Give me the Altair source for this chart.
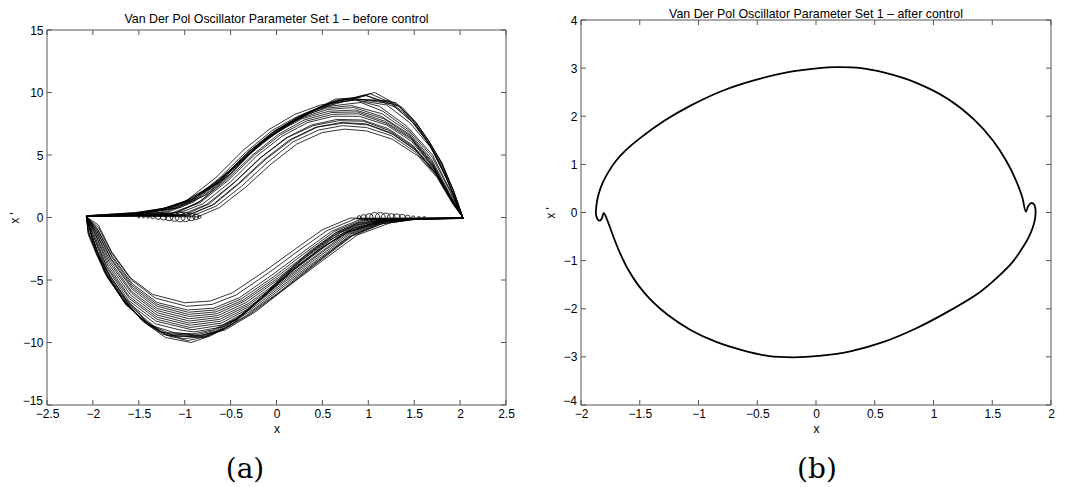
import altair as alt
import pandas as pd

# ---------------- Panel (a): before control (x, x') traces ----------------
upper_01 = [(-2.07,0.08),(-1.5,0.1),(-0.86,0.05),(-0.62,0.8),(-0.34,2.4),(-0.06,4.27),(0.22,5.87),(0.5,6.8),(0.74,7.07),(0.98,6.93),(1.26,6.27),(1.54,4.93),(1.75,3.2),(1.92,1.07),(2.03,0.0)]
upper_02 = [(-2.07,0.1),(-1.5,0.12),(-0.92,0.12),(-0.66,0.9),(-0.38,2.5),(-0.1,4.4),(0.18,6.05),(0.46,7.0),(0.72,7.35),(0.98,7.2),(1.25,6.55),(1.52,5.2),(1.74,3.4),(1.91,1.3),(2.03,0.0)]
upper_03 = [(-2.07,0.1),(-1.5,0.14),(-0.98,0.15),(-0.7,1.0),(-0.42,2.7),(-0.14,4.6),(0.14,6.2),(0.42,7.2),(0.7,7.6),(0.97,7.5),(1.24,6.8),(1.5,5.5),(1.73,3.6),(1.9,1.4),(2.03,0.0)]
upper_04 = [(-2.07,0.1),(-1.5,0.16),(-1.04,0.2),(-0.76,1.05),(-0.47,2.75),(-0.18,4.75),(0.1,6.35),(0.38,7.4),(0.66,7.85),(0.94,7.8),(1.22,7.1),(1.48,5.8),(1.72,3.8),(1.9,1.5),(2.03,0.0)]
upper_05 = [(-2.07,0.1),(-1.5,0.18),(-1.1,0.25),(-0.8,1.1),(-0.5,2.85),(-0.22,4.9),(0.06,6.5),(0.34,7.6),(0.62,8.1),(0.9,8.1),(1.2,7.4),(1.47,6.1),(1.71,4.0),(1.89,1.6),(2.03,0.0)]
upper_06 = [(-2.07,0.11),(-1.5,0.2),(-1.16,0.3),(-0.86,1.15),(-0.56,2.9),(-0.26,5.0),(0.02,6.65),(0.3,7.8),(0.6,8.4),(0.88,8.45),(1.18,7.7),(1.46,6.4),(1.7,4.2),(1.89,1.7),(2.03,0.0)]
upper_07 = [(-2.07,0.11),(-1.5,0.22),(-1.2,0.38),(-0.9,1.25),(-0.6,3.0),(-0.3,5.1),(-0.02,6.8),(0.26,7.95),(0.56,8.65),(0.84,8.8),(1.14,8.1),(1.44,6.7),(1.69,4.5),(1.88,1.9),(2.03,0.0)]
upper_08 = [(-2.07,0.12),(-1.5,0.24),(-1.25,0.45),(-0.94,1.3),(-0.63,3.1),(-0.33,5.25),(-0.05,6.95),(0.23,8.1),(0.52,8.85),(0.8,9.1),(0.92,9.2),(1.16,8.5),(1.44,7.0),(1.7,4.8),(1.89,2.1),(2.03,0.0)]
upper_09 = [(-2.07,0.12),(-1.5,0.27),(-1.3,0.5),(-0.98,1.35),(-0.66,3.2),(-0.36,5.4),(-0.08,7.05),(0.2,8.25),(0.48,9.0),(0.74,9.3),(0.86,9.4),(1.12,8.9),(1.42,7.3),(1.7,5.0),(1.89,2.2),(2.03,0.0)]
upper_10 = [(-2.07,0.13),(-1.5,0.3),(-1.1,0.75),(-0.8,1.7),(-0.5,3.5),(-0.22,5.7),(0.06,7.2),(0.34,8.4),(0.62,9.2),(0.78,9.5),(1.2,9.0),(1.45,7.6),(1.68,5.6),(1.86,3.0),(1.99,0.6),(2.03,0.0)]
upper_11 = [(-2.07,0.13),(-1.5,0.33),(-1.15,0.8),(-0.86,1.6),(-0.56,3.2),(-0.3,5.3),(0.0,7.0),(0.3,8.3),(0.58,9.15),(0.7,9.35),(0.98,9.75),(1.3,8.8),(1.5,7.5),(1.66,5.9),(1.8,4.2),(1.92,2.0),(2.03,0.0)]
upper_12 = [(-2.07,0.14),(-1.5,0.36),(-1.2,0.75),(-0.92,1.45),(-0.62,2.9),(-0.36,4.9),(-0.08,6.6),(0.2,7.9),(0.46,8.8),(0.68,9.45),(0.9,9.6),(1.02,9.9),(1.34,8.9),(1.52,7.6),(1.67,6.0),(1.8,4.3),(1.93,2.1),(2.03,0.0)]
upper_13 = [(-2.07,0.14),(-1.52,0.4),(-1.18,0.8),(-0.93,1.47),(-0.65,2.67),(-0.41,4.27),(-0.13,6.13),(0.15,7.47),(0.39,8.53),(0.64,9.47),(0.82,9.55),(1.07,10.0),(1.37,8.8),(1.52,7.6),(1.66,6.13),(1.8,4.4),(1.93,2.13),(2.03,0.0)]
upper_14 = [(-2.07,0.12),(-1.6,0.25),(-1.3,0.55),(-1.02,1.2),(-0.72,2.5),(-0.45,4.1),(-0.18,5.9),(0.1,7.3),(0.36,8.3),(0.6,9.0),(0.85,9.5),(1.3,9.2),(1.48,7.8),(1.64,6.1),(1.78,4.3),(1.92,2.0),(2.03,0.0)]
upper_15 = [(-2.07,0.1),(-1.5,0.15),(-1.0,0.22),(-0.73,1.1),(-0.45,2.85),(-0.16,4.85),(0.12,6.4),(0.4,7.35),(0.68,7.75),(0.95,7.7),(1.23,6.95),(1.49,5.65),(1.72,3.7),(1.9,1.45),(2.03,0.0)]
upper_16 = [(-2.07,0.11),(-1.5,0.19),(-1.13,0.3),(-0.83,1.2),(-0.53,2.95),(-0.24,5.0),(0.04,6.6),(0.32,7.7),(0.61,8.25),(0.89,8.3),(1.19,7.55),(1.47,6.25),(1.7,4.1),(1.89,1.65),(2.03,0.0)]
upper_17 = [(-2.07,0.12),(-1.5,0.23),(-1.22,0.42),(-0.92,1.3),(-0.61,3.05),(-0.31,5.2),(-0.03,6.9),(0.25,8.05),(0.54,8.75),(0.82,8.95),(1.15,8.3),(1.44,6.85),(1.69,4.65),(1.88,2.0),(2.03,0.0)]
upper_18 = [(-2.07,0.13),(-1.5,0.28),(-1.05,0.8),(-0.76,1.85),(-0.47,3.7),(-0.19,5.85),(0.09,7.35),(0.37,8.5),(0.66,9.3),(0.8,9.55),(1.25,9.1),(1.47,7.7),(1.67,5.8),(1.85,3.2),(1.99,0.7),(2.03,0.0)]
upper_19 = [(-2.07,0.14),(-1.55,0.38),(-1.25,0.7),(-0.98,1.35),(-0.68,2.6),(-0.43,4.2),(-0.15,6.0),(0.13,7.4),(0.38,8.45),(0.62,9.3),(0.78,9.45),(0.96,9.8),(1.33,8.9),(1.51,7.6),(1.66,6.05),(1.8,4.35),(1.93,2.1),(2.03,0.0)]
upper_20 = [(-2.07,0.12),(-1.55,0.3),(-1.2,0.65),(-0.95,1.3),(-0.68,2.7),(-0.4,4.5),(-0.12,6.3),(0.16,7.6),(0.42,8.6),(0.66,9.2),(0.9,9.45),(1.22,9.35),(1.4,8.3),(1.56,7.0),(1.72,5.2),(1.86,3.0),(1.98,0.9),(2.03,0.0)]
upper_21 = [(-2.07,0.1),(-1.5,0.2),(-1.08,0.4),(-0.82,1.35),(-0.55,3.1),(-0.27,5.2),(0.0,6.8),(0.28,7.9),(0.57,8.5),(0.86,8.6),(1.17,7.9),(1.45,6.55),(1.69,4.4),(1.88,1.8),(2.03,0.0)]
upper_22 = [(-2.07,0.11),(-1.5,0.17),(-0.95,0.2),(-0.68,1.05),(-0.4,2.75),(-0.11,4.7),(0.17,6.25),(0.45,7.25),(0.73,7.55),(1.0,7.4),(1.27,6.65),(1.53,5.3),(1.74,3.45),(1.91,1.35),(2.03,0.0)]

lower_01 = [(2.04,-0.02),(1.5,-0.05),(0.8,-0.05),(0.5,-0.98),(0.22,-2.44),(-0.13,-4.3),(-0.48,-6.02),(-0.72,-6.68),(-1.0,-6.82),(-1.35,-6.15),(-1.59,-4.83),(-1.8,-2.7),(-1.94,-0.6),(-2.07,0.05)]
lower_02 = [(2.04,-0.03),(1.5,-0.06),(0.86,-0.1),(0.55,-1.05),(0.26,-2.55),(-0.09,-4.45),(-0.44,-6.2),(-0.7,-6.95),(-0.98,-7.1),(-1.32,-6.45),(-1.58,-5.0),(-1.79,-2.9),(-1.94,-0.8),(-2.07,0.05)]
lower_03 = [(2.04,-0.04),(1.5,-0.07),(0.92,-0.13),(0.6,-1.1),(0.3,-2.7),(-0.05,-4.6),(-0.4,-6.4),(-0.68,-7.25),(-0.97,-7.4),(-1.3,-6.8),(-1.57,-5.3),(-1.79,-3.1),(-1.95,-0.9),(-2.07,0.05)]
lower_04 = [(2.04,-0.05),(1.5,-0.08),(0.98,-0.16),(0.66,-1.15),(0.35,-2.85),(0.0,-4.75),(-0.36,-6.6),(-0.66,-7.55),(-0.96,-7.75),(-1.3,-7.1),(-1.57,-5.6),(-1.8,-3.3),(-1.96,-1.0),(-2.07,0.05)]
lower_05 = [(2.04,-0.05),(1.5,-0.1),(1.04,-0.2),(0.7,-1.2),(0.38,-3.0),(0.03,-4.9),(-0.33,-6.8),(-0.64,-7.85),(-0.95,-8.1),(-1.3,-7.45),(-1.58,-5.9),(-1.81,-3.5),(-1.97,-1.1),(-2.07,0.05)]
lower_06 = [(2.04,-0.06),(1.5,-0.11),(1.1,-0.25),(0.76,-1.25),(0.42,-3.1),(0.06,-5.05),(-0.3,-7.0),(-0.62,-8.15),(-0.95,-8.45),(-1.3,-7.8),(-1.59,-6.2),(-1.83,-3.7),(-1.98,-1.2),(-2.07,0.05)]
lower_07 = [(2.04,-0.06),(1.5,-0.12),(1.16,-0.3),(0.8,-1.3),(0.45,-3.2),(0.08,-5.2),(-0.28,-7.2),(-0.6,-8.45),(-0.94,-8.8),(-1.3,-8.15),(-1.6,-6.5),(-1.85,-3.9),(-1.99,-1.3),(-2.07,0.05)]
lower_08 = [(2.04,-0.07),(1.5,-0.13),(1.2,-0.35),(0.84,-1.35),(0.48,-3.3),(0.1,-5.4),(-0.26,-7.4),(-0.58,-8.75),(-0.9,-9.15),(-1.05,-9.0),(-1.32,-8.5),(-1.62,-6.8),(-1.86,-4.1),(-2.0,-1.4),(-2.07,0.05)]
lower_09 = [(2.04,-0.07),(1.5,-0.14),(1.25,-0.4),(0.88,-1.4),(0.51,-3.4),(0.12,-5.55),(-0.24,-7.6),(-0.56,-9.0),(-0.84,-9.45),(-1.12,-9.2),(-1.38,-8.6),(-1.64,-7.0),(-1.88,-4.3),(-2.01,-1.5),(-2.07,0.05)]
lower_10 = [(2.04,-0.08),(1.55,-0.12),(1.1,-0.55),(0.78,-1.6),(0.42,-3.7),(0.04,-5.9),(-0.32,-7.8),(-0.62,-9.1),(-0.8,-9.6),(-1.2,-9.4),(-1.45,-8.3),(-1.66,-6.7),(-1.84,-4.8),(-1.96,-2.9),(-2.05,-1.2),(-2.07,0.05)]
lower_11 = [(2.04,-0.08),(1.6,-0.1),(1.26,-0.19),(0.88,-0.45),(0.64,-1.25),(0.36,-2.7),(0.08,-4.56),(-0.2,-6.68),(-0.48,-8.54),(-0.72,-9.47),(-0.93,-10.0),(-1.21,-9.6),(-1.46,-8.28),(-1.66,-6.68),(-1.84,-4.83),(-1.96,-2.97),(-2.05,-1.38),(-2.07,0.05)]
lower_12 = [(2.04,-0.07),(1.55,-0.1),(1.2,-0.3),(0.85,-0.8),(0.58,-1.8),(0.28,-3.4),(-0.02,-5.4),(-0.3,-7.3),(-0.56,-8.8),(-0.78,-9.5),(-1.02,-9.7),(-1.3,-9.0),(-1.5,-7.9),(-1.68,-6.4),(-1.85,-4.5),(-1.97,-2.6),(-2.05,-1.0),(-2.07,0.05)]
lower_13 = [(2.04,-0.06),(1.5,-0.12),(1.15,-0.4),(0.8,-1.1),(0.52,-2.3),(0.2,-4.1),(-0.1,-6.1),(-0.38,-7.9),(-0.66,-9.1),(-0.86,-9.5),(-1.15,-9.55),(-1.4,-8.6),(-1.6,-7.1),(-1.78,-5.3),(-1.92,-3.3),(-2.02,-1.3),(-2.07,0.05)]
lower_14 = [(2.04,-0.05),(1.45,-0.1),(1.1,-0.3),(0.75,-1.2),(0.46,-2.6),(0.14,-4.4),(-0.16,-6.4),(-0.44,-8.1),(-0.7,-9.0),(-0.9,-9.3),(-1.25,-9.2),(-1.45,-8.0),(-1.64,-6.5),(-1.82,-4.6),(-1.95,-2.7),(-2.04,-0.9),(-2.07,0.05)]
lower_15 = [(2.04,-0.04),(1.5,-0.08),(0.95,-0.15),(0.63,-1.12),(0.32,-2.78),(-0.02,-4.68),(-0.38,-6.5),(-0.67,-7.4),(-0.96,-7.58),(-1.3,-6.95),(-1.57,-5.45),(-1.79,-3.2),(-1.95,-0.95),(-2.07,0.05)]
lower_16 = [(2.04,-0.05),(1.5,-0.1),(1.07,-0.22),(0.73,-1.22),(0.4,-3.05),(0.05,-4.98),(-0.31,-6.9),(-0.63,-8.0),(-0.95,-8.28),(-1.3,-7.62),(-1.58,-6.05),(-1.82,-3.6),(-1.97,-1.15),(-2.07,0.05)]
lower_17 = [(2.04,-0.06),(1.5,-0.12),(1.18,-0.32),(0.82,-1.32),(0.47,-3.25),(0.09,-5.3),(-0.27,-7.3),(-0.59,-8.6),(-0.92,-8.98),(-1.31,-8.3),(-1.61,-6.65),(-1.85,-4.0),(-2.0,-1.35),(-2.07,0.05)]
lower_18 = [(2.04,-0.07),(1.52,-0.12),(1.15,-0.5),(0.82,-1.5),(0.46,-3.55),(0.08,-5.75),(-0.28,-7.7),(-0.6,-9.05),(-0.82,-9.5),(-1.16,-9.3),(-1.42,-8.45),(-1.65,-6.85),(-1.86,-4.5),(-2.0,-1.8),(-2.07,0.05)]
lower_19 = [(2.04,-0.06),(1.58,-0.1),(1.22,-0.25),(0.86,-0.6),(0.61,-1.5),(0.32,-3.05),(0.03,-5.0),(-0.25,-7.0),(-0.52,-8.7),(-0.75,-9.5),(-0.97,-9.85),(-1.25,-9.3),(-1.48,-8.1),(-1.67,-6.55),(-1.84,-4.65),(-1.96,-2.8),(-2.05,-1.2),(-2.07,0.05)]
lower_20 = [(2.04,-0.05),(1.48,-0.1),(1.12,-0.35),(0.78,-1.15),(0.49,-2.45),(0.17,-4.25),(-0.13,-6.25),(-0.41,-8.0),(-0.68,-9.05),(-0.88,-9.4),(-1.2,-9.4),(-1.42,-8.3),(-1.62,-6.8),(-1.8,-4.95),(-1.94,-3.0),(-2.03,-1.1),(-2.07,0.05)]
lower_21 = [(2.04,-0.05),(1.5,-0.09),(1.01,-0.18),(0.68,-1.18),(0.36,-2.92),(0.02,-4.82),(-0.35,-6.7),(-0.65,-7.7),(-0.95,-7.92),(-1.3,-7.28),(-1.57,-5.75),(-1.8,-3.4),(-1.96,-1.05),(-2.07,0.05)]
lower_22 = [(2.04,-0.06),(1.5,-0.11),(1.13,-0.28),(0.78,-1.28),(0.43,-3.15),(0.07,-5.12),(-0.29,-7.1),(-0.61,-8.3),(-0.94,-8.62),(-1.3,-7.98),(-1.6,-6.35),(-1.84,-3.8),(-1.98,-1.25),(-2.07,0.05)]

# small loops of the trajectory on the x axis (centre x, loop width in x units)
left_loop_x = [-1.50,-1.45,-1.40,-1.35,-1.29,-1.23,-1.17,-1.11,-1.05,-0.99,-0.93,-0.88,-0.84]
left_loop_w = [0.02,0.02,0.025,0.035,0.05,0.06,0.075,0.085,0.095,0.09,0.075,0.055,0.03]
right_loop_x = [0.90,0.95,1.01,1.07,1.13,1.19,1.25,1.31,1.37,1.43,1.49,1.55,1.61]
right_loop_w = [0.035,0.055,0.075,0.095,0.095,0.085,0.075,0.07,0.06,0.045,0.03,0.022,0.02]

x_ticks_a = [-2.5,-2,-1.5,-1,-0.5,0,0.5,1,1.5,2,2.5]
y_ticks_a = [-15,-10,-5,0,5,10,15]

# ---------------- Panel (b): after control ----------------
after_x = [-1.874,-1.866,-1.848,-1.815,-1.765,-1.700,-1.616,-1.500,-1.288,-1.068,-0.795,-0.521,-0.247,0.027,0.164,0.384,0.575,0.849,1.123,1.342,1.507,1.620,1.700,1.755,1.786,1.808,1.835,1.858,1.868,1.862,1.835,1.800,1.740,1.676,1.534,1.397,1.123,0.849,0.575,0.301,0.027,-0.192,-0.411,-0.630,-0.849,-1.068,-1.260,-1.400,-1.510,-1.600,-1.665,-1.725,-1.770,-1.806,-1.822,-1.840,-1.857,-1.870,-1.874]
after_y = [0.00,0.20,0.40,0.62,0.85,1.08,1.30,1.54,1.91,2.22,2.53,2.75,2.91,3.00,3.02,3.00,2.91,2.70,2.36,1.94,1.49,1.07,0.68,0.32,0.02,0.14,0.20,0.16,0.06,-0.16,-0.38,-0.56,-0.80,-1.02,-1.37,-1.65,-2.06,-2.41,-2.69,-2.88,-2.98,-3.01,-2.98,-2.86,-2.69,-2.44,-2.13,-1.83,-1.52,-1.18,-0.86,-0.50,-0.20,-0.01,-0.12,-0.17,-0.15,-0.07,0.00]

x_ticks_b = [-2,-1.5,-1,-0.5,0,0.5,1,1.5,2]
y_ticks_b = [-4,-3,-2,-1,0,1,2,3,4]

title_a = "Van Der Pol Oscillator Parameter Set 1 \u2013 before control"
title_b = "Van Der Pol Oscillator Parameter Set 1 \u2013 after control"

# ---------------- build tables ----------------
upper = [upper_01, upper_02, upper_03, upper_04, upper_05, upper_06, upper_07, upper_08, upper_09, upper_10, upper_11,
         upper_12, upper_13, upper_14, upper_15, upper_16, upper_17, upper_18, upper_19, upper_20, upper_21, upper_22]
lower = [lower_01, lower_02, lower_03, lower_04, lower_05, lower_06, lower_07, lower_08, lower_09, lower_10, lower_11,
         lower_12, lower_13, lower_14, lower_15, lower_16, lower_17, lower_18, lower_19, lower_20, lower_21, lower_22]
rows = []
for tag, group in (("u", upper), ("l", lower)):
    for k, pts in enumerate(group):
        for i, (x, y) in enumerate(pts):
            rows.append({"curve": f"{tag}{k}", "order": i, "x": x, "y": y})
df_a = pd.DataFrame(rows)
df_loops = pd.DataFrame({
    "x": left_loop_x + right_loop_x,
    "y": [0.05] * len(left_loop_x) + [0.0] * len(right_loop_x),
    "w": left_loop_w + right_loop_w,
})
df_b = pd.DataFrame({"x": after_x, "y": after_y, "order": list(range(len(after_x)))})

FRAME = "#555555"
FONT = "Liberation Sans"
SERIF = "DejaVu Serif"


def panel(df_lines, xt, yt, xdom, ydom, W, H, top, title, title_y, ytitle_pad,
          stroke_w, interp, caption, cap_x, cap_y, loops=None):
    xs = alt.Scale(domain=xdom, nice=False, zero=False)
    ys = alt.Scale(domain=ydom, range=[H, top], nice=False, zero=False)
    xax = alt.Axis(values=xt, format="~g", labelFlush=False, ticks=False, domain=False,
                   grid=False, labelPadding=3, title="x", titlePadding=4)
    # the lowest y label is drawn separately, lifted a little above the x labels
    yax = alt.Axis(values=yt[1:], format="~g", labelFlush=False, ticks=False, domain=False,
                   grid=False, labelPadding=4, title="x '", titlePadding=ytitle_pad)
    X = alt.X("x:Q", scale=xs, axis=xax)
    Y = alt.Y("y:Q", scale=ys, axis=yax)

    enc = dict(x=X, y=Y, order="order:Q")
    if "curve" in df_lines.columns:
        enc["detail"] = "curve:N"
    lines = alt.Chart(df_lines).mark_line(color="black", strokeWidth=stroke_w, clip=True,
                                          interpolate=interp).encode(**enc)
    layers = [lines]
    if loops is not None:
        layers.append(alt.Chart(loops).mark_point(shape="circle", filled=False, color="black",
                                                  strokeWidth=0.8, opacity=1).encode(
            x=X, y=Y,
            size=alt.Size("w:Q", scale=alt.Scale(type="pow", exponent=2, domain=[0, 0.1], range=[0, 110]),
                          legend=None)))
    # frame (box) drawn at the data limits
    fr_h = pd.DataFrame({"y": [ydom[0], ydom[1]], "x": [xdom[0], xdom[0]], "x2": [xdom[1], xdom[1]]})
    fr_v = pd.DataFrame({"x": [xdom[0], xdom[1]], "y": [ydom[0], ydom[0]], "y2": [ydom[1], ydom[1]]})
    layers.append(alt.Chart(fr_h).mark_rule(color=FRAME, strokeWidth=1).encode(x=X, x2="x2:Q", y=Y))
    layers.append(alt.Chart(fr_v).mark_rule(color=FRAME, strokeWidth=1).encode(x=X, y=Y, y2="y2:Q"))
    # inward ticks on all four sides
    xtd = pd.DataFrame({"x": xt})
    ytd = pd.DataFrame({"y": yt})
    layers.append(alt.Chart(xtd).mark_rule(color=FRAME, strokeWidth=1).encode(
        x=X, y=alt.value(H), y2=alt.value(H - 5)))
    layers.append(alt.Chart(xtd).mark_rule(color=FRAME, strokeWidth=1).encode(
        x=X, y=alt.value(top), y2=alt.value(top + 5)))
    layers.append(alt.Chart(ytd).mark_rule(color=FRAME, strokeWidth=1).encode(
        y=Y, x=alt.value(0), x2=alt.value(5)))
    layers.append(alt.Chart(ytd).mark_rule(color=FRAME, strokeWidth=1).encode(
        y=Y, x=alt.value(W), x2=alt.value(W - 5)))
    # lowest y tick label
    low = pd.DataFrame({"y": [yt[0]]})
    layers.append(alt.Chart(low).mark_text(font=FONT, fontSize=12, color="black", align="right",
                                           baseline="middle", dy=-4).encode(
        y=Y, x=alt.value(-4), text=alt.Text("y:Q", format="~g")))
    ttl = alt.Chart(pd.DataFrame({"t": [title]})).mark_text(
        font=FONT, fontSize=12.4, color="black", baseline="alphabetic", align="center").encode(
        text="t:N", x=alt.value(W / 2), y=alt.value(title_y))
    layers.append(ttl)
    cap = alt.Chart(pd.DataFrame({"t": [caption]})).mark_text(
        font=SERIF, fontSize=28, color="black", baseline="middle", align="center").encode(
        text="t:N", x=alt.value(cap_x), y=alt.value(cap_y))
    layers.append(cap)
    return alt.layer(*layers).properties(width=W, height=H)


left = panel(df_a, x_ticks_a, y_ticks_a, [-2.5, 2.5], [-15, 15], 459, 385, 10, title_a, 3, 1,
             0.8, "linear", "(a)", 198, 450, loops=df_loops)
right = panel(df_b, x_ticks_b, y_ticks_b, [-2, 2], [-4, 4], 470, 385, 0, title_b, -2, 6,
              1.8, "catmull-rom", "(b)", 236, 450)

chart = alt.hconcat(left, right, spacing=29).properties(
    padding={"left": 0, "top": 0, "right": 0, "bottom": 0}
).configure_view(stroke=None).configure_axis(
    labelFont=FONT, labelFontSize=12, labelColor="black",
    titleFont=FONT, titleFontSize=12, titleColor="black", titleFontWeight="normal"
).configure_concat(spacing=29)

chart.save("out.html", embed_options={"renderer": "svg", "actions": False})
